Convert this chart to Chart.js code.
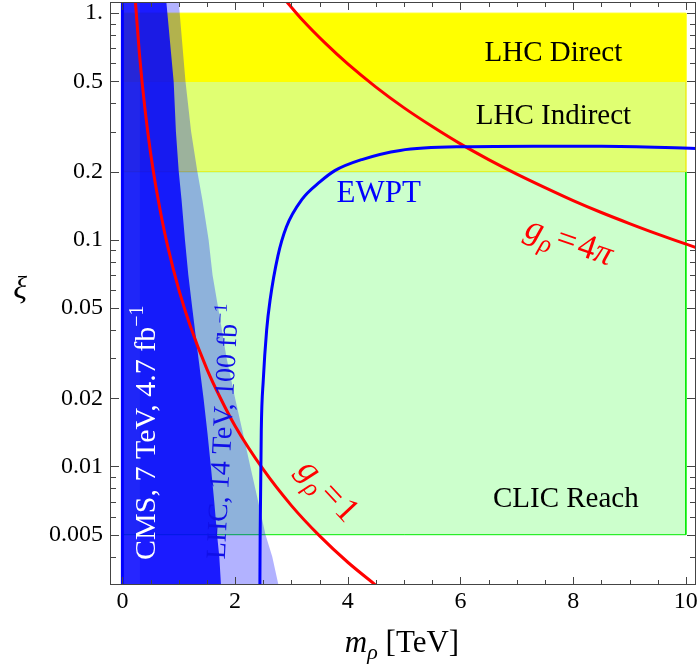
<!DOCTYPE html>
<html>
<head>
<meta charset="utf-8">
<script src="https://cdn.jsdelivr.net/npm/chart.js@4.4.1/dist/chart.umd.min.js"></script>
<style>
  html, body { margin: 0; padding: 0; background: #fff; }
  #wrap { width: 697px; height: 668px; position: relative; }
</style>
</head>
<body>
<div id="wrap"><canvas id="c"></canvas></div>
<script>
// axis ranges and ticks
const xMin = -0.22, xMax = 10.18;
const yMin = 0.003, yMax = 1.12;
const xTicks = [0, 2, 4, 6, 8, 10];
const xMinorTicks = [0.5, 1, 1.5, 2.5, 3, 3.5, 4.5, 5, 5.5, 6.5, 7, 7.5, 8.5, 9, 9.5];
const yTicks = [0.005, 0.01, 0.02, 0.05, 0.1, 0.2, 0.5, 1];
const yTickLabels = ['0.005', '0.01', '0.02', '0.05', '0.1', '0.2', '0.5', '1.'];
const yMinorTicks = [0.004, 0.006, 0.007, 0.008, 0.009, 0.03, 0.04, 0.06, 0.07, 0.08, 0.09, 0.3, 0.4, 0.6, 0.7, 0.8, 0.9];

// shaded reach regions
const regionNames = ['CLIC Reach', 'LHC Indirect', 'LHC Direct'];
const regionMFrom = [0, 0, 0];
const regionMTo = [10, 10, 10];
const regionXiFrom = [0.005, 0.2, 0.5];
const regionXiTo = [0.2, 0.5, 1];

// exclusion bands: right edge (m at given xi), read from top to bottom
const bandXi = [1.12, 0.5, 0.3, 0.2, 0.15, 0.1, 0.07, 0.05, 0.03, 0.02, 0.014, 0.01, 0.007, 0.005, 0.004, 0.003];
const cmsEdgeM = [0.78, 0.91, 0.95, 1.0, 1.05, 1.11, 1.17, 1.24, 1.35, 1.44, 1.51, 1.57, 1.63, 1.68, 1.72, 1.75];
const lhcEdgeM = [1.0, 1.12, 1.22, 1.33, 1.42, 1.53, 1.60, 1.70, 1.85, 2.0, 2.14, 2.27, 2.41, 2.54, 2.66, 2.77];
const cmsLeftM = 0;
const lhcLeftM = 0.31;

// EWPT bound
const ewptM  = [2.44, 2.445, 2.465, 2.50, 2.56, 2.62, 2.76, 2.91, 3.18, 3.51, 3.77, 4.25, 4.93, 6.1, 7.3, 8.5, 10.2];
const ewptXi = [0.003, 0.005, 0.0145, 0.024, 0.040, 0.054, 0.085, 0.114, 0.150, 0.1805, 0.202, 0.226, 0.248, 0.2576, 0.259, 0.259, 0.253];

// g_rho = 1 and g_rho = 4 pi lines
const g1M  = [0.23, 0.25, 0.3, 0.35, 0.45, 0.55, 0.7, 0.8, 1.0, 1.2, 1.5, 1.75, 2.0, 2.5, 3.0, 3.5, 4.0, 4.5];
const g1Xi = [1.14, 0.97, 0.672, 0.494, 0.299, 0.200, 0.1235, 0.0946, 0.0605, 0.042, 0.0269, 0.0198, 0.0151, 0.0097, 0.00672, 0.00494, 0.00378, 0.00299];
const g4M  = [2.92, 3.2, 3.6, 4.0, 4.5, 5.0, 5.5, 6.0, 6.5, 7.0, 7.5, 8.0, 8.5, 9.0, 9.5, 10.2];
const g4Xi = [1.12, 0.93, 0.737, 0.597, 0.472, 0.382, 0.316, 0.265, 0.226, 0.195, 0.170, 0.149, 0.132, 0.118, 0.106, 0.092];

const SERIF = "'Liberation Serif', 'DejaVu Serif', serif";

function pts(ms, xis) { return ms.map((m, i) => ({ x: m, y: xis[i] })); }

function rectPts(i) {
    return [
        { x: regionMFrom[i], y: regionXiFrom[i] },
        { x: regionMFrom[i], y: regionXiTo[i] },
        { x: regionMTo[i], y: regionXiTo[i] },
        { x: regionMTo[i], y: regionXiFrom[i] },
        { x: regionMFrom[i], y: regionXiFrom[i] }
    ];
}

function bandPts(left, edge) {
    const p = [{ x: left, y: yMax }];
    bandXi.forEach((xi, i) => p.push({ x: edge[i], y: xi }));
    p.push({ x: left, y: yMin });
    return p;
}

const regionFill = ['rgb(204,255,204)', 'rgb(224,255,114)', 'rgb(255,255,0)'];
const regionLine = ['rgb(0,235,0)', 'rgb(235,240,40)', 'rgb(255,255,0)'];

const datasets = [];
regionNames.forEach((name, i) => {
    datasets.push({
        label: name, data: rectPts(i), fill: 'shape',
        backgroundColor: regionFill[i], borderColor: regionLine[i], borderWidth: 1,
        pointRadius: 0, tension: 0, order: 20 - i
    });
});
datasets.push({
    label: 'LHC 14 TeV', data: bandPts(lhcLeftM, lhcEdgeM), fill: 'shape',
    backgroundColor: 'rgba(0,0,255,0.3)', borderColor: 'transparent', borderWidth: 0,
    pointRadius: 0, tension: 0, order: 10
});
datasets.push({
    label: 'CMS 7 TeV', data: bandPts(cmsLeftM, cmsEdgeM), fill: 'shape',
    backgroundColor: 'rgba(0,0,255,0.85)', borderColor: 'transparent', borderWidth: 0,
    pointRadius: 0, tension: 0, order: 9
});
datasets.push({
    label: 'CMS edge', data: [{ x: cmsLeftM, y: yMin }, { x: cmsLeftM, y: yMax }], fill: false,
    borderColor: '#0000ff', borderWidth: 3, pointRadius: 0, order: 8
});
datasets.push({
    label: 'g=1', data: pts(g1M, g1Xi), fill: false, borderColor: '#ff0000', borderWidth: 3,
    pointRadius: 0, cubicInterpolationMode: 'monotone', order: 3
});
datasets.push({
    label: 'g=4pi', data: pts(g4M, g4Xi), fill: false, borderColor: '#ff0000', borderWidth: 3,
    pointRadius: 0, cubicInterpolationMode: 'monotone', order: 2
});
datasets.push({
    label: 'EWPT', data: pts(ewptM, ewptXi), fill: false, borderColor: '#0000ff', borderWidth: 3,
    pointRadius: 0, cubicInterpolationMode: 'monotone', order: 1
});

// text run helper: runs = [{t, size, italic, dy, gap}]
function drawRuns(ctx, runs, cx, cy, deg, color) {
    ctx.save();
    ctx.translate(cx, cy);
    ctx.rotate(deg * Math.PI / 180);
    ctx.fillStyle = color;
    ctx.textBaseline = 'alphabetic';
    ctx.textAlign = 'left';
    let w = 0;
    runs.forEach(r => {
        ctx.font = (r.italic ? 'italic ' : '') + r.size + 'px ' + SERIF;
        r.w = ctx.measureText(r.t).width + (r.gap || 0) * 2;
        w += r.w;
    });
    const base = runs[0].size * 0.33;
    let x = -w / 2;
    runs.forEach(r => {
        ctx.font = (r.italic ? 'italic ' : '') + r.size + 'px ' + SERIF;
        ctx.fillText(r.t, x + (r.gap || 0), base + (r.dy || 0));
        x += r.w;
    });
    ctx.restore();
}

const labels = [
    { runs: [{ t: 'LHC Direct', size: 29 }], m: 7.65, xi: 0.677, rot: 0, color: '#000' },
    { runs: [{ t: 'LHC Indirect', size: 29 }], m: 7.65, xi: 0.359, rot: 0, color: '#000' },
    { runs: [{ t: 'CLIC Reach', size: 29 }], m: 7.87, xi: 0.00732, rot: 0, color: '#000' },
    { runs: [{ t: 'EWPT', size: 31 }], m: 4.55, xi: 0.1626, rot: 0, color: '#0000ff' },
    { runs: [{ t: 'g', size: 35, italic: true }, { t: 'ρ', size: 25, italic: true, dy: 8 },
             { t: '=', size: 35, gap: 3 }, { t: '4', size: 35 }, { t: 'π', size: 35, italic: true }],
      m: 7.94, xi: 0.0998, rot: 19, color: '#ff0000' },
    { runs: [{ t: 'g', size: 35, italic: true }, { t: 'ρ', size: 25, italic: true, dy: 8 },
             { t: '=', size: 35, gap: 3 }, { t: '1', size: 35 }],
      m: 3.67, xi: 0.0079, rot: 47, color: '#ff0000' },
    { runs: [{ t: 'CMS, 7 TeV, 4.7 fb', size: 30 }, { t: '−1', size: 20, dy: -12 }],
      m: 0.40, xi: 0.0141, rot: -90, color: '#ffffff' },
    { runs: [{ t: 'LHC, 14 TeV, 100 fb', size: 28 }, { t: '−1', size: 19, dy: -11 }],
      m: 1.77, xi: 0.0143, rot: -87, color: '#1010e8' }
];

const framePlugin = {
    id: 'frame',
    afterDatasetsDraw(chart) {
        const ctx = chart.ctx;
        const xs = chart.scales.x, ys = chart.scales.y;
        const a = chart.chartArea;

        ctx.save();
        ctx.beginPath();
        ctx.rect(a.left, a.top, a.right - a.left, a.bottom - a.top);
        ctx.clip();
        labels.forEach(l => {
            drawRuns(ctx, l.runs, xs.getPixelForValue(l.m), ys.getPixelForValue(l.xi), l.rot, l.color);
        });
        ctx.restore();

        // frame and inward ticks
        ctx.save();
        ctx.strokeStyle = '#444';
        ctx.lineWidth = 1;
        ctx.strokeRect(a.left + 0.5, a.top + 0.5, a.right - a.left - 1, a.bottom - a.top - 1);
        ctx.beginPath();
        const xt = (v, len) => {
            const p = Math.round(xs.getPixelForValue(v)) + 0.5;
            ctx.moveTo(p, a.bottom); ctx.lineTo(p, a.bottom - len);
            ctx.moveTo(p, a.top); ctx.lineTo(p, a.top + len);
        };
        const yt = (v, len) => {
            const p = Math.round(ys.getPixelForValue(v)) + 0.5;
            ctx.moveTo(a.left, p); ctx.lineTo(a.left + len, p);
            ctx.moveTo(a.right, p); ctx.lineTo(a.right - len, p);
        };
        xTicks.forEach(v => xt(v, 8));
        xMinorTicks.forEach(v => xt(v, 5));
        yTicks.forEach(v => yt(v, 9));
        yMinorTicks.forEach(v => yt(v, 6));
        ctx.stroke();
        ctx.restore();

        // axis titles
        drawRuns(ctx, [{ t: 'm', size: 31, italic: true }, { t: 'ρ', size: 22, italic: true, dy: 7 },
                       { t: ' [TeV]', size: 31 }], 402, 642, 0, '#000');
        ctx.save();
        ctx.font = 'italic 32px ' + SERIF;
        ctx.fillStyle = '#000';
        ctx.textAlign = 'center';
        ctx.textBaseline = 'middle';
        ctx.fillText('ξ', 20, 290);
        ctx.restore();
    }
};

new Chart(document.getElementById('c'), {
    type: 'line',
    data: { datasets: datasets },
    options: {
        responsive: true,
        maintainAspectRatio: false,
        animation: false,
        events: [],
        layout: { padding: { top: 2, right: 1, left: 0, bottom: 0 } },
        plugins: { legend: { display: false }, tooltip: { enabled: false } },
        scales: {
            x: {
                type: 'linear', min: xMin, max: xMax,
                grid: { display: false, drawTicks: false },
                border: { display: false },
                afterBuildTicks: s => { s.ticks = xTicks.map(v => ({ value: v })); },
                afterFit: s => { s.height = 83; s.paddingLeft = 0; s.paddingRight = 0; },
                ticks: {
                    autoSkip: false, maxRotation: 0, padding: 2, color: '#000',
                    font: { family: SERIF, size: 24 },
                    callback: v => String(v)
                }
            },
            y: {
                type: 'logarithmic', min: yMin, max: yMax,
                grid: { display: false, drawTicks: false },
                border: { display: false },
                afterBuildTicks: s => { s.ticks = yTicks.map(v => ({ value: v })); },
                afterFit: s => { s.width = 110; s.paddingTop = 0; s.paddingBottom = 0; },
                ticks: {
                    autoSkip: false, padding: 7, color: '#000',
                    font: { family: SERIF, size: 24 },
                    callback: v => yTickLabels[yTicks.indexOf(v)]
                }
            }
        }
    },
    plugins: [framePlugin]
});
</script>
</body>
</html>
